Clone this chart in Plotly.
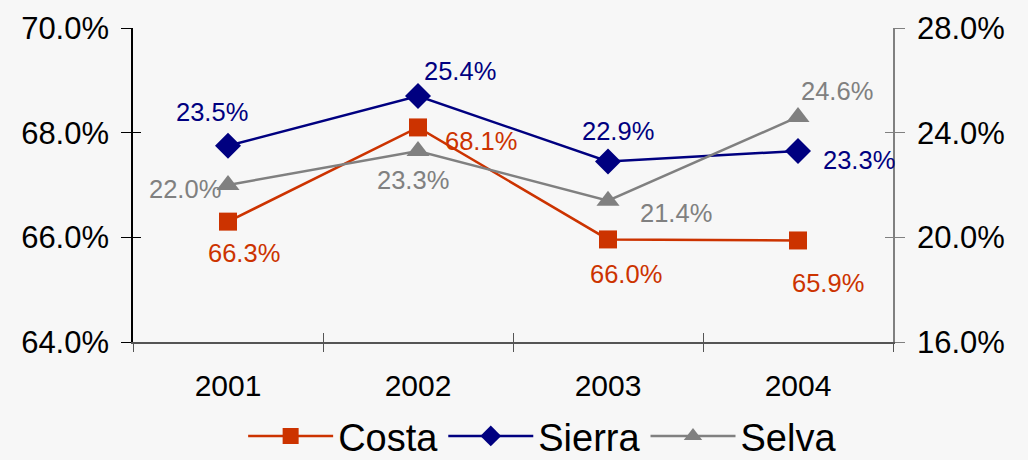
import plotly.graph_objects as go

years = [2001, 2002, 2003, 2004]
costa = [0.663, 0.681, 0.6596, 0.6594]
sierra = [0.235, 0.254, 0.229, 0.233]
selva = [0.220, 0.233, 0.214, 0.246]

# label offsets (pixels, style only)
costa_shift = [(16, -31), (63, -14), (18, -35), (30, -43)]
sierra_shift = [(-16, 34), (42, 25), (10, 30), (61, -9)]
selva_shift = [(-43, -4), (-5, -29), (68, -12), (39, 26)]

C_COSTA = "#CC3300"
C_SIERRA = "#000080"
C_SELVA = "#808080"
BG = "#F7F7F7"
FONT = "Liberation Sans, Arial, sans-serif"

fig = go.Figure()

series = [
    ("Costa", costa, C_COSTA, "square", 18, "y", costa_shift),
    ("Sierra", sierra, C_SIERRA, "diamond", 20, "y2", sierra_shift),
    ("Selva", selva, C_SELVA, "triangle-up", 20, "y2", selva_shift),
]

annotations = []
for name, vals, col, sym, msize, yax, shifts in series:
    fig.add_trace(go.Scatter(
        x=years, y=vals, name=name, mode="lines+markers",
        line=dict(color=col, width=2.5),
        marker=dict(symbol=sym, size=msize, color=col),
        yaxis=yax, cliponaxis=False))
    for xv, yv, (dx, dy) in zip(years, vals, shifts):
        annotations.append(dict(
            x=xv, y=yv, xref="x", yref=yax, text=f"{yv*100:.1f}%",
            showarrow=False, xshift=dx, yshift=dy,
            font=dict(color=col, size=25.5, family=FONT)))

xr = [years[0] - 0.5, years[-1] + 0.5]
bounds = [y - 0.5 for y in years] + [years[-1] + 0.5]

fig.update_layout(
    width=1028, height=460,
    paper_bgcolor=BG, plot_bgcolor=BG,
    margin=dict(l=133, r=135, t=28, b=118, autoexpand=False),
    font=dict(family=FONT, size=30, color="black"),
    showlegend=True,
    annotations=annotations,
    legend=dict(orientation="h", x=0.539, xanchor="center", y=-0.30, yanchor="middle",
                font=dict(size=38, family=FONT, color="black"),
                bgcolor="rgba(0,0,0,0)", itemwidth=85, tracegroupgap=0),
    xaxis=dict(range=xr, tickvals=years, ticktext=[str(y) for y in years],
               ticks="", showline=True, linecolor="#555555", linewidth=1.5,
               showgrid=False, zeroline=False, tickfont=dict(size=30),
               ticklabelstandoff=16),
    xaxis2=dict(range=xr, overlaying="x", anchor="y", side="bottom",
                tickvals=bounds, ticks="outside", ticklen=9, tickcolor="#555555",
                showticklabels=False, showgrid=False, zeroline=False, showline=False),
    xaxis3=dict(range=xr, overlaying="x", anchor="y", side="bottom",
                tickvals=bounds, ticks="inside", ticklen=9, tickcolor="#555555",
                showticklabels=False, showgrid=False, zeroline=False, showline=False),
    yaxis=dict(range=[0.64, 0.70], dtick=0.02, tickformat=".1%",
               ticks="outside", ticklen=10, tickcolor="black",
               showline=True, linecolor="black", linewidth=1.5,
               showgrid=False, zeroline=False, tickfont=dict(size=31),
               ticklabelstandoff=6),
    yaxis2=dict(range=[0.16, 0.28], dtick=0.04, tickformat=".1%",
                overlaying="y", side="right", anchor="x",
                ticks="outside", ticklen=10, tickcolor="#808080",
                showline=True, linecolor="#808080", linewidth=1.5,
                showgrid=False, zeroline=False, tickfont=dict(size=31),
                ticklabelstandoff=6),
    yaxis3=dict(range=[0.64, 0.70], dtick=0.02, overlaying="y", side="left", anchor="x",
                ticks="inside", ticklen=8, tickcolor="black",
                showticklabels=False, showgrid=False, zeroline=False, showline=False),
    yaxis4=dict(range=[0.16, 0.28], dtick=0.04, overlaying="y", side="right", anchor="x",
                ticks="inside", ticklen=8, tickcolor="#808080",
                showticklabels=False, showgrid=False, zeroline=False, showline=False),
)

# invisible helper traces so that overlay axes get drawn
fig.add_trace(go.Scatter(x=[years[0]], y=[0.65], xaxis="x2", yaxis="y3", mode="markers",
                         marker=dict(opacity=0), showlegend=False, hoverinfo="skip"))
fig.add_trace(go.Scatter(x=[years[0]], y=[0.20], xaxis="x3", yaxis="y4", mode="markers",
                         marker=dict(opacity=0), showlegend=False, hoverinfo="skip"))

fig.write_html(
    "out.html",
    config={"displayModeBar": False},
    post_script="document.body.style.margin='0';document.body.style.overflow='hidden';"
                "document.body.style.background='#F7F7F7';",
)
